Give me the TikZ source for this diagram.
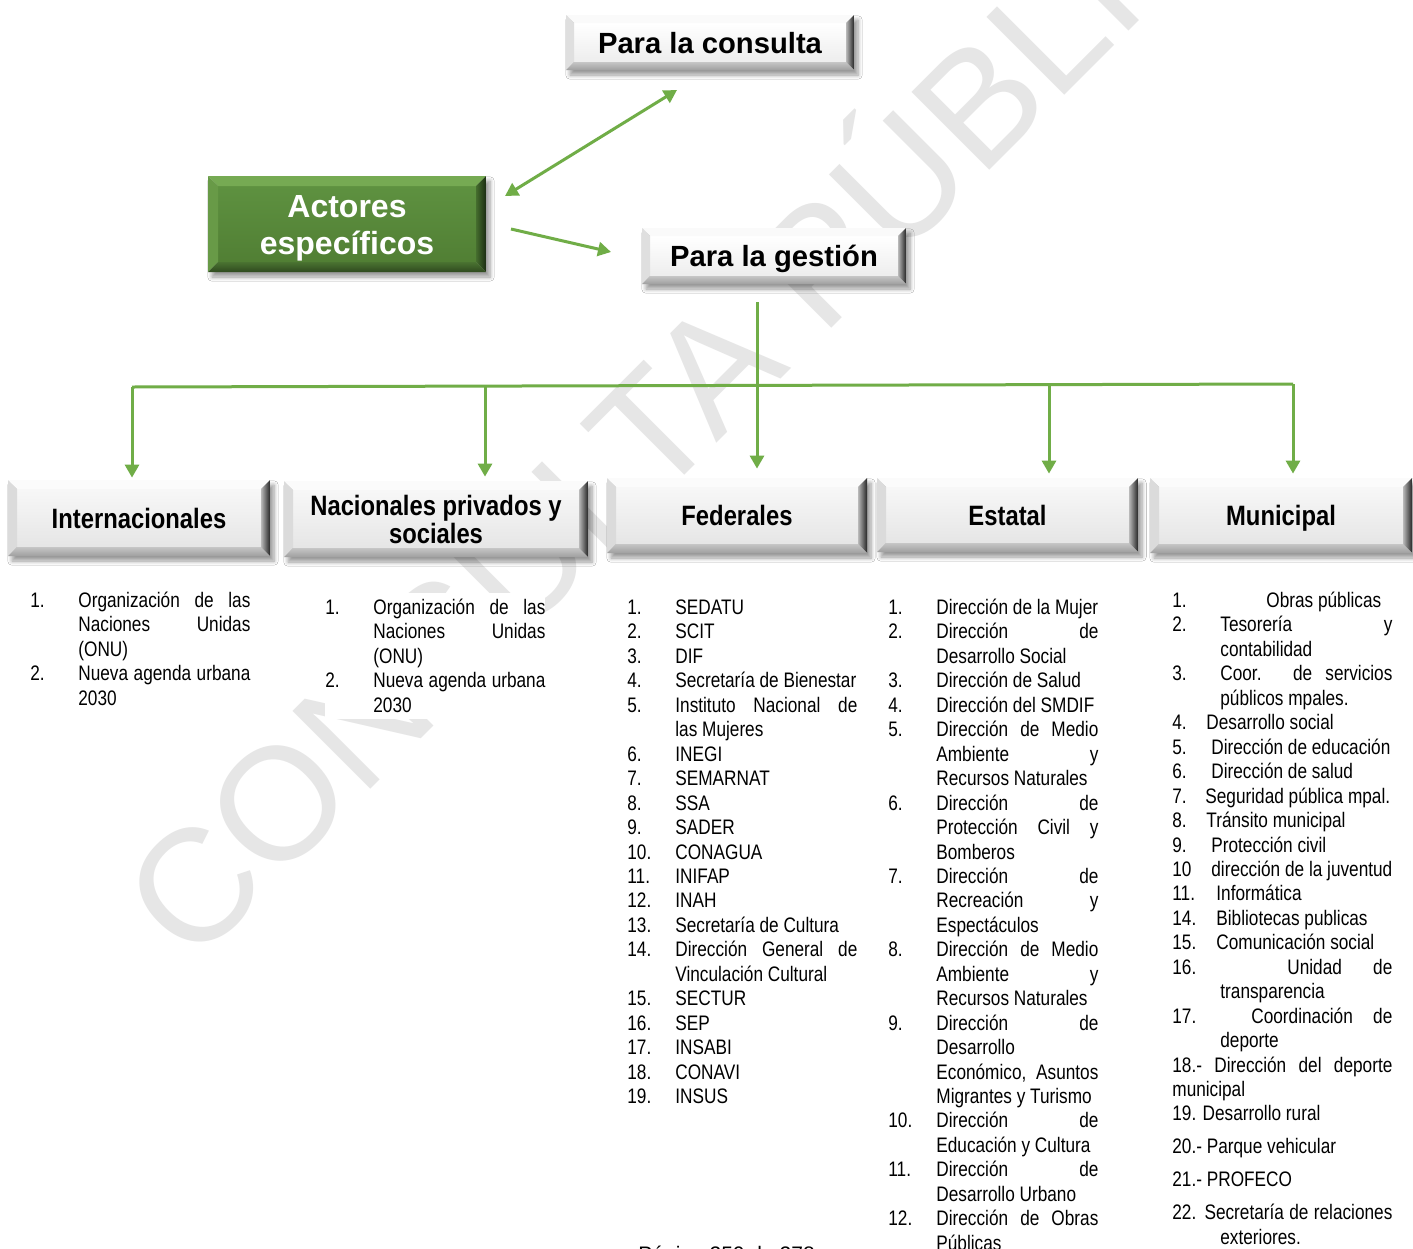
\documentclass[tikz,border=0pt]{standalone}
\usepackage{fontspec}
\setmainfont{Liberation Sans}
\newfontfamily\narrowfont[FakeStretch=0.82]{Liberation Sans}
\newfontfamily\headfont[FakeStretch=0.85]{Liberation Sans}
\usetikzlibrary{arrows.meta,shadows.blur}
\definecolor{lgreen}{HTML}{70AD47}
\definecolor{wmark}{HTML}{E6E6E6}
\definecolor{gface1}{HTML}{5E9140}
\definecolor{gface2}{HTML}{517F34}
\definecolor{gtop}{HTML}{76AA53}
\definecolor{gleft}{HTML}{689A47}
\definecolor{gright1}{HTML}{456D2E}
\definecolor{gright2}{HTML}{1B2C12}
\definecolor{gbot1}{HTML}{4A7331}
\definecolor{gbot2}{HTML}{2F4A1F}
\newcommand\jl[2]{\makebox[#1][s]{#2}}
\newcommand\nm[2]{\makebox[#1][l]{#2}}
% bevel drawing: depth, face top, face bottom, top strip, left strip, right light, right dark, bottom light, bottom dark
\newcommand\bevdraw[9]{%
  \coordinate (pnw) at (path picture bounding box.north west);
  \coordinate (pne) at (path picture bounding box.north east);
  \coordinate (pse) at (path picture bounding box.south east);
  \coordinate (psw) at (path picture bounding box.south west);
  \coordinate (inw) at ([shift={(#1,-#1)}]pnw);
  \coordinate (ine) at ([shift={(-#1,-#1)}]pne);
  \coordinate (ise) at ([shift={(-#1,#1)}]pse);
  \coordinate (isw) at ([shift={(#1,#1)}]psw);
  \shade[top color=#2, bottom color=#3] (inw) rectangle (ise);
  \fill[#4] (pnw) -- (pne) -- (ine) -- (inw) -- cycle;
  \fill[#5] (pnw) -- (inw) -- (isw) -- (psw) -- cycle;
  \shade[left color=#6, right color=#7] (pne) -- (pse) -- (ise) -- (ine) -- cycle;
  \shade[top color=#8, bottom color=#9] (psw) -- (isw) -- (ise) -- (pse) -- cycle;
}
\tikzset{
  conn/.style={draw=lgreen, line width=1.5pt},
  arr/.style={conn, -{Triangle[length=6.5pt,width=7pt]}},
  darr/.style={conn, {Triangle[length=6.5pt,width=7pt]}-{Triangle[length=6.5pt,width=7pt]}},
  shad/.style={blur shadow={shadow xshift=2pt,shadow yshift=-2.5pt,shadow blur steps=6,shadow opacity=40}},
  topbox/.style={rectangle, inner sep=0pt, align=center, shad,
    font=\bfseries\fontsize{14.6pt}{17pt}\selectfont, text height=10.5pt, text depth=0pt,
    path picture={\bevdraw{4pt}{white}{gray!14}{gray!4}{gray!25}{gray!55}{black!85}{gray!45}{gray!75}}},
  catbox/.style={rectangle, inner sep=0pt, align=center, shad,
    font=\headfont\bfseries\fontsize{14pt}{14pt}\selectfont,
    path picture={\bevdraw{4.5pt}{gray!6}{gray!20}{gray!3}{gray!28}{gray!55}{black!85}{gray!45}{gray!75}}},
  onecat/.style={catbox, text height=10pt, text depth=-1pt},
  greenbox/.style={rectangle, inner sep=0pt, align=center, text=white, shad,
    font=\bfseries\fontsize{16pt}{18.5pt}\selectfont, text height=30pt, text depth=0pt,
    path picture={\bevdraw{5pt}{gface1}{gface2}{gtop}{gleft}{gright1}{gright2}{gbot1}{gbot2}}},
  listnode/.style={anchor=base west, inner xsep=0pt, inner ysep=3pt, fill=white}
}
\begin{document}
\begin{tikzpicture}[x=0.5pt,y=-0.5pt]
\useasboundingbox (0,0) rectangle (1413,1248);
\fill[white] (0,0) rectangle (1413,1248);

% watermark
\node[rotate=45, anchor=base west, inner sep=0pt, text=wmark, font=\fontsize{80pt}{80pt}\selectfont] (wm) at (192,968) {CONSULTA PÚBLICA};

% lists
\node[listnode] (l1) at (30,607.5) {\begin{minipage}[t]{110pt}\narrowfont\fontsize{10.5pt}{12.225pt}\selectfont\setlength\parindent{0pt}%
\nm{24pt}{1.}\jl{86pt}{Organización de las}\\
\nm{24pt}{}\jl{86pt}{Naciones Unidas}\\
\nm{24pt}{}(ONU)\\
\nm{24pt}{2.}\jl{86pt}{Nueva agenda urbana}\\
\nm{24pt}{}2030\end{minipage}};

\node[listnode] (l2) at (325,614.5) {\begin{minipage}[t]{110pt}\narrowfont\fontsize{10.5pt}{12.225pt}\selectfont\setlength\parindent{0pt}%
\nm{24pt}{1.}\jl{86pt}{Organización de las}\\
\nm{24pt}{}\jl{86pt}{Naciones Unidas}\\
\nm{24pt}{}(ONU)\\
\nm{24pt}{2.}\jl{86pt}{Nueva agenda urbana}\\
\nm{24pt}{}2030\end{minipage}};

\node[listnode] (l3) at (627,614.5) {\begin{minipage}[t]{115pt}\narrowfont\fontsize{10.5pt}{12.225pt}\selectfont\setlength\parindent{0pt}%
\nm{24pt}{1.}SEDATU\\
\nm{24pt}{2.}SCIT\\
\nm{24pt}{3.}DIF\\
\nm{24pt}{4.}Secretaría de Bienestar\\
\nm{24pt}{5.}\jl{91pt}{Instituto Nacional de}\\
\nm{24pt}{}las Mujeres\\
\nm{24pt}{6.}INEGI\\
\nm{24pt}{7.}SEMARNAT\\
\nm{24pt}{8.}SSA\\
\nm{24pt}{9.}SADER\\
\nm{24pt}{10.}CONAGUA\\
\nm{24pt}{11.}INIFAP\\
\nm{24pt}{12.}INAH\\
\nm{24pt}{13.}Secretaría de Cultura\\
\nm{24pt}{14.}\jl{91pt}{Dirección General de}\\
\nm{24pt}{}Vinculación Cultural\\
\nm{24pt}{15.}SECTUR\\
\nm{24pt}{16.}SEP\\
\nm{24pt}{17.}INSABI\\
\nm{24pt}{18.}CONAVI\\
\nm{24pt}{19.}INSUS\end{minipage}};

\node[listnode] (l4) at (888,614.5) {\begin{minipage}[t]{105pt}\narrowfont\fontsize{10.5pt}{12.225pt}\selectfont\setlength\parindent{0pt}%
\nm{24pt}{1.}Dirección de la Mujer\\
\nm{24pt}{2.}\jl{81pt}{Dirección de}\\
\nm{24pt}{}Desarrollo Social\\
\nm{24pt}{3.}Dirección de Salud\\
\nm{24pt}{4.}Dirección del SMDIF\\
\nm{24pt}{5.}\jl{81pt}{Dirección de Medio}\\
\nm{24pt}{}\jl{81pt}{Ambiente y}\\
\nm{24pt}{}Recursos Naturales\\
\nm{24pt}{6.}\jl{81pt}{Dirección de}\\
\nm{24pt}{}\jl{81pt}{Protección Civil y}\\
\nm{24pt}{}Bomberos\\
\nm{24pt}{7.}\jl{81pt}{Dirección de}\\
\nm{24pt}{}\jl{81pt}{Recreación y}\\
\nm{24pt}{}Espectáculos\\
\nm{24pt}{8.}\jl{81pt}{Dirección de Medio}\\
\nm{24pt}{}\jl{81pt}{Ambiente y}\\
\nm{24pt}{}Recursos Naturales\\
\nm{24pt}{9.}\jl{81pt}{Dirección de}\\
\nm{24pt}{}Desarrollo\\
\nm{24pt}{}\jl{81pt}{Económico, Asuntos}\\
\nm{24pt}{}Migrantes y Turismo\\
\nm{24pt}{10.}\jl{81pt}{Dirección de}\\
\nm{24pt}{}Educación y Cultura\\
\nm{24pt}{11.}\jl{81pt}{Dirección de}\\
\nm{24pt}{}Desarrollo Urbano\\
\nm{24pt}{12.}\jl{81pt}{Dirección de Obras}\\
\nm{24pt}{}Públicas\end{minipage}};

\node[listnode] (l5) at (1172,607.5) {\begin{minipage}[t]{110pt}\narrowfont\fontsize{10.5pt}{12.225pt}\selectfont\setlength\parindent{0pt}%
\nm{47pt}{1.}Obras públicas\\
\nm{24pt}{2.}\jl{86pt}{Tesorería y}\\
\nm{24pt}{}contabilidad\\
\nm{24pt}{3.}\jl{86pt}{Coor. de servicios}\\
\nm{24pt}{}públicos mpales.\\
\nm{17pt}{4.}Desarrollo social\\
\nm{19.5pt}{5.}Dirección de educación\\
\nm{19.5pt}{6.}Dirección de salud\\
\nm{16.5pt}{7.}Seguridad pública mpal.\\
\nm{17pt}{8.}Tránsito municipal\\
\nm{19.5pt}{9.}Protección civil\\
\nm{19.5pt}{10}dirección de la juventud\\
\nm{22pt}{11.}Informática\\
\nm{22pt}{14.}Bibliotecas publicas\\
\nm{22pt}{15.}Comunicación social\\
\nm{57.5pt}{16.}\jl{52.5pt}{Unidad de}\\
\nm{24pt}{}transparencia\\
\nm{39.5pt}{17.}\jl{70.5pt}{Coordinación de}\\
\nm{24pt}{}deporte\\
\jl{110pt}{18.- Dirección del deporte}\\
municipal\\
19. Desarrollo rural\\[4.25pt]
20.- Parque vehicular\\[4.25pt]
21.- PROFECO\\[4.25pt]
\jl{110pt}{22. Secretaría de relaciones}\\
\nm{24pt}{}exteriores.\end{minipage}};

% footer
\node[anchor=base west, inner sep=0pt, font=\fontsize{10.5pt}{12pt}\selectfont] (foot) at (638,1261) {Página 250 de 278};

% boxes
\node[topbox, minimum width=144pt, minimum height=27.5pt] (consulta) at (710,42.5) {Para la consulta};
\node[greenbox, minimum width=139pt, minimum height=48pt] (actores) at (347,224) {Actores\\específicos};
\node[topbox, minimum width=132pt, minimum height=28pt] (gestion) at (774,256) {Para la gestión};

\node[onecat, minimum width=131pt, minimum height=38pt] (intl) at (139,518) {Internacionales};
\node[catbox, minimum width=152pt, minimum height=38pt] (nac) at (436,519) {Nacionales privados y\\sociales};
\node[onecat, minimum width=130pt, minimum height=37.5pt] (fed) at (737,515.5) {Federales};
\node[onecat, minimum width=130.5pt, minimum height=37pt] (est) at (1007.5,515) {Estatal};
\node[onecat, minimum width=131pt, minimum height=37.5pt] (mun) at (1281,515.5) {Municipal};

% connectors
\coordinate (c1) at (505,196);
\coordinate (c2) at (677,90);
\coordinate (c3) at (511,229);
\coordinate (c4) at (611,252);
\coordinate (g0) at (757,302);
\coordinate (bl) at (132,387);
\coordinate (br) at (1293,384);
\coordinate (d2) at (485,386);
\coordinate (d4) at (1049,385);

\draw[darr] (c1) -- (c2);
\draw[arr] (c3) -- (c4);
\draw[conn] (bl) -- (br);
\draw[arr, shorten >=4.5pt] (g0) -- (g0 |- fed.north);
\draw[arr, shorten >=1pt] (bl) -- (bl |- intl.north);
\draw[arr, shorten >=2pt] (d2) -- (d2 |- nac.north);
\draw[arr, shorten >=2pt] (d4) -- (d4 |- est.north);
\draw[arr, shorten >=2pt] (br) -- (br |- mun.north);
\end{tikzpicture}
\end{document}
